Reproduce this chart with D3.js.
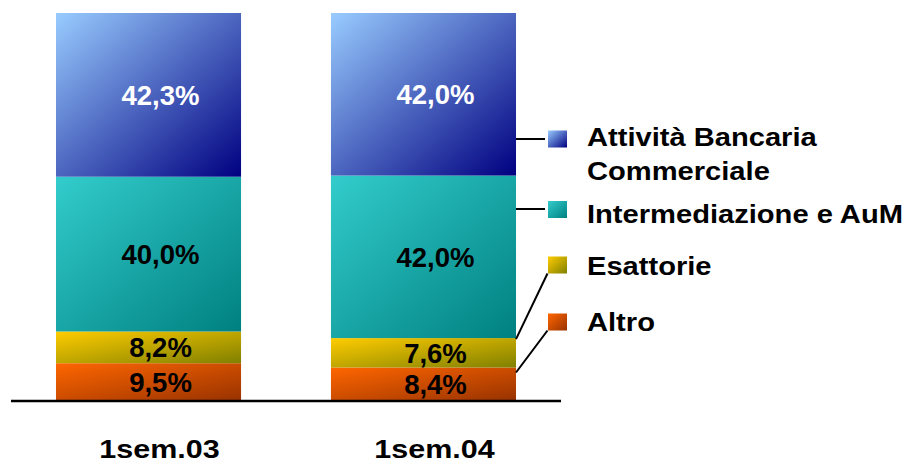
<!DOCTYPE html>
<meta charset="utf-8">
<style>
body { margin: 0; background: #fff; }
text { font-family: "Liberation Sans", Arial, sans-serif; font-weight: bold; }
</style>
<body>
<script src="https://d3js.org/d3.v7.min.js"></script>
<script>

// data
var periods = ["1sem.03", "1sem.04"];
var series = ["Altro", "Esattorie", "Intermediazione e AuM", "Attività Bancaria Commerciale"];
var altro = [9.5, 8.4];
var esattorie = [8.2, 7.6];
var intermediazione = [40.0, 42.0];
var attivita = [42.3, 42.0];

var width = 908, height = 464;

var svg = d3.select("body").append("svg")
    .attr("width", width)
    .attr("height", height);

// gradients, one per series
var grads = [
  {id: "g0", c1: "#ff6600", c2: "#993300"},
  {id: "g1", c1: "#ffcc00", c2: "#808000"},
  {id: "g2", c1: "#33cccc", c2: "#008080"},
  {id: "g3", c1: "#99ccff", c2: "#000080"}
];
var defs = svg.append("defs");
grads.forEach(function(g) {
  var lg = defs.append("linearGradient").attr("id", g.id)
      .attr("x1", 0).attr("y1", 0).attr("x2", 1).attr("y2", 1);
  lg.append("stop").attr("offset", "0%").attr("stop-color", g.c1);
  lg.append("stop").attr("offset", "100%").attr("stop-color", g.c2);
});

var x = d3.scaleBand().domain(periods).range([11, 561])
    .paddingInner(0.327).paddingOuter(0.1636);
var y = d3.scaleLinear().domain([0, 100]).range([400, 13]);

// build table for stacking
var table = periods.map(function(p, i) {
  var row = {period: p};
  row[series[0]] = altro[i];
  row[series[1]] = esattorie[i];
  row[series[2]] = intermediazione[i];
  row[series[3]] = attivita[i];
  return row;
});
var stacked = d3.stack().keys(series)(table);

var fmt = function(v) { return v.toFixed(1).replace(".", ",") + "%"; };

var layers = svg.selectAll(".layer")
    .data(stacked)
  .enter().append("g")
    .attr("class", "layer")
    .attr("fill", function(d, i) { return "url(#g" + i + ")"; });

layers.selectAll("rect")
    .data(function(d) { return d; })
  .enter().append("rect")
    .attr("x", function(d) { return x(d.data.period); })
    .attr("width", x.bandwidth())
    .attr("y", function(d) { return y(d[1]); })
    .attr("height", function(d) { return y(d[0]) - y(d[1]); });

// value labels
stacked.forEach(function(s, si) {
  svg.selectAll(".lbl" + si)
      .data(s)
    .enter().append("text")
      .attr("x", function(d) { return x(d.data.period) + x.bandwidth() / 2 + 12; })
      .attr("y", function(d) { return (y(d[0]) + y(d[1])) / 2; })
      .attr("dy", "0.36em")
      .attr("text-anchor", "middle")
      .style("font-size", "27.5px")
      .attr("fill", si === 3 ? "#fff" : "#000")
      .text(function(d) { return fmt(d[1] - d[0]); });
});

// baseline
svg.append("line")
    .attr("x1", 11).attr("x2", 561)
    .attr("y1", 401).attr("y2", 401)
    .attr("stroke", "#000").attr("stroke-width", 2.5);

// category labels (wide glyphs, as in the original)
svg.selectAll(".cat")
    .data(periods)
  .enter().append("text")
    .attr("transform", function(d) {
      return "translate(" + (x(d) + x.bandwidth() / 2 + 11) + ",458) scale(1.22,1)";
    })
    .attr("text-anchor", "middle")
    .style("font-size", "25px")
    .text(function(d) { return d; });

// legend with leader lines (top to bottom)
var last = periods.length - 1;
var barRight = x(periods[last]) + x.bandwidth();
var legendY = [322, 265, 209.5, 139];
var textY = [331, 275, 223, 146];
var leaderY = [y(stacked[0][last][1]) + 5, y(stacked[1][last][1]) + 1, 209, 139];
var legend = svg.append("g");
series.forEach(function(s, i) {
  var ly = legendY[i];
  var lx2 = i >= 2 ? 545 : 547.5;
  legend.append("line")
      .attr("x1", barRight).attr("y1", leaderY[i])
      .attr("x2", lx2).attr("y2", i >= 2 ? leaderY[i] : ly + 8.5)
      .attr("stroke", "#000").attr("stroke-width", 2);
  legend.append("rect")
      .attr("x", 548).attr("y", ly - 8.5)
      .attr("width", 19).attr("height", 17)
      .attr("fill", "url(#g" + i + ")");
  var lines = i === 3 ? ["Attività Bancaria", "Commerciale"] : [s];
  lines.forEach(function(l, k) {
    legend.append("text")
        .attr("transform", "translate(587," + (textY[i] + k * 34) + ") scale(1.165,1)")
        .style("font-size", "25px")
        .text(l);
  });
});

</script>
</body>
